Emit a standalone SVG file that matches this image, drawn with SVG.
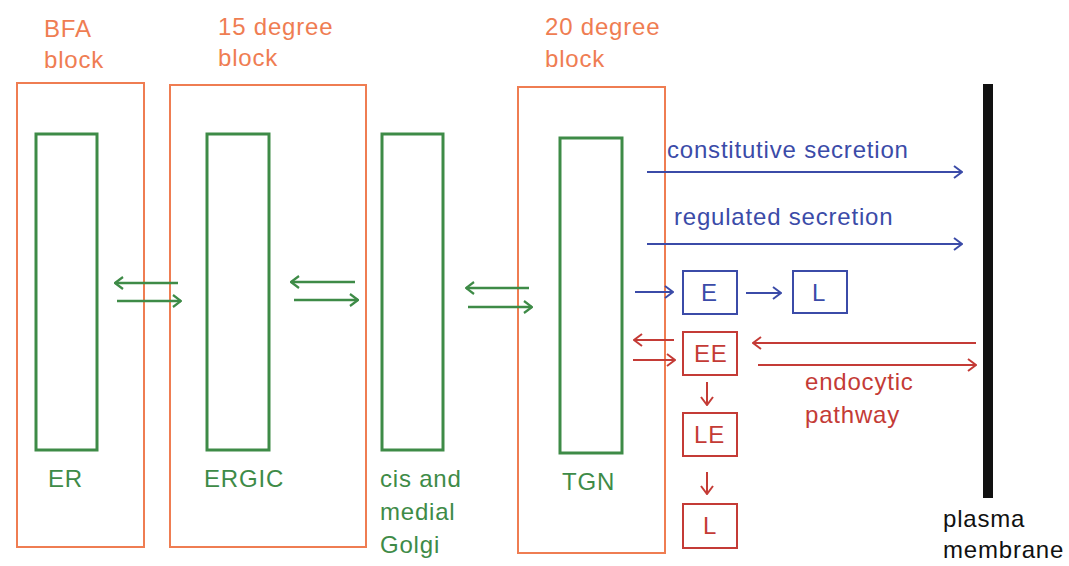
<svg xmlns="http://www.w3.org/2000/svg" width="1069" height="566" viewBox="0 0 1069 566">
<defs>
<style>
text{font-family:"Liberation Sans",Arial,sans-serif;font-size:24px;letter-spacing:0.8px}
.or{fill:none;stroke:#EF7D52;stroke-width:2}
.ot{fill:#EF7D52}
.gr{fill:none;stroke:#3E8B47;stroke-width:3}
.gt{fill:#3E8B47}
.bl{fill:none;stroke:#3B4BA8;stroke-width:2}
.bt{fill:#3B4BA8}
.rd{fill:none;stroke:#C43B36;stroke-width:2}
.rt{fill:#C43B36}
.ga{stroke:#3E8B47;stroke-width:2.5;fill:none;marker-end:url(#mg)}
.ba{stroke:#3B4BA8;stroke-width:2;fill:none;marker-end:url(#mb)}
.ra{stroke:#C43B36;stroke-width:2;fill:none;marker-end:url(#mr)}
</style>
<marker id="mg" viewBox="0 0 10 14" refX="9" refY="7" markerWidth="10" markerHeight="14" markerUnits="userSpaceOnUse" orient="auto"><path d="M1,1 L9,7 L1,13" fill="none" stroke="#3E8B47" stroke-width="2.2"/></marker>
<marker id="mb" viewBox="0 0 10 14" refX="9" refY="7" markerWidth="10" markerHeight="14" markerUnits="userSpaceOnUse" orient="auto"><path d="M1,1 L9,7 L1,13" fill="none" stroke="#3B4BA8" stroke-width="2"/></marker>
<marker id="mr" viewBox="0 0 10 14" refX="9" refY="7" markerWidth="10" markerHeight="14" markerUnits="userSpaceOnUse" orient="auto"><path d="M1,1 L9,7 L1,13" fill="none" stroke="#C43B36" stroke-width="2"/></marker>
</defs>
<rect width="1069" height="566" fill="#fff"/>

<g id="bfa-block">
<rect class="or" x="17" y="83" width="127" height="464"/>
<text class="ot" x="44" y="37">BFA</text>
<text class="ot" x="44" y="68">block</text>
</g>
<g id="block-15">
<rect class="or" x="170" y="85" width="196" height="462"/>
<text class="ot" x="218" y="35">15 degree</text>
<text class="ot" x="218" y="66">block</text>
</g>
<g id="block-20">
<rect class="or" x="518" y="87" width="147" height="466"/>
<text class="ot" x="545" y="35">20 degree</text>
<text class="ot" x="545" y="67">block</text>
</g>

<g id="er">
<rect class="gr" x="36" y="134" width="61" height="316"/>
<text class="gt" x="48" y="487">ER</text>
</g>
<g id="ergic">
<rect class="gr" x="207" y="134" width="62" height="316"/>
<text class="gt" x="204" y="487">ERGIC</text>
</g>
<g id="cis-golgi">
<rect class="gr" x="382" y="134" width="61" height="316"/>
<text class="gt" x="380" y="487">cis and</text>
<text class="gt" x="380" y="520">medial</text>
<text class="gt" x="380" y="553">Golgi</text>
</g>
<g id="tgn">
<rect class="gr" x="560" y="138" width="62" height="315"/>
<text class="gt" x="562" y="490">TGN</text>
</g>

<g id="e">
<rect class="bl" x="683" y="271" width="54" height="43"/>
<text class="bt" x="701" y="301">E</text>
</g>
<g id="l-blue">
<rect class="bl" x="793" y="271" width="54" height="42"/>
<text class="bt" x="812" y="301">L</text>
</g>
<g id="ee">
<rect class="rd" x="683" y="332" width="54" height="43"/>
<text class="rt" x="694" y="362">EE</text>
</g>
<g id="le">
<rect class="rd" x="683" y="413" width="54" height="43"/>
<text class="rt" x="694" y="443">LE</text>
</g>
<g id="l-red">
<rect class="rd" x="683" y="504" width="54" height="44"/>
<text class="rt" x="703" y="534">L</text>
</g>

<g id="plasma-membrane">
<rect x="983" y="84" width="10" height="414" fill="#111"/>
<text x="943" y="527" fill="#111">plasma</text>
<text x="943" y="558" fill="#111">membrane</text>
</g>

<g id="connectors">
<line class="ga" x1="178" y1="283" x2="115" y2="283"/>
<line class="ga" x1="117" y1="301" x2="181" y2="301"/>
<line class="ga" x1="355" y1="282" x2="291" y2="282"/>
<line class="ga" x1="294" y1="300" x2="358" y2="300"/>
<line class="ga" x1="529" y1="288" x2="466" y2="288"/>
<line class="ga" x1="468" y1="307" x2="532" y2="307"/>

<line class="ba" x1="647" y1="172" x2="962" y2="172"/>
<text class="bt" x="667" y="158">constitutive secretion</text>
<line class="ba" x1="647" y1="244" x2="962" y2="244"/>
<text class="bt" x="674" y="225">regulated secretion</text>
<line class="ba" x1="635" y1="292" x2="673" y2="292"/>
<line class="ba" x1="746" y1="293" x2="781" y2="293"/>

<line class="ra" x1="674" y1="340" x2="634" y2="340"/>
<line class="ra" x1="633" y1="360" x2="675" y2="360"/>
<line class="ra" x1="976" y1="343" x2="753" y2="343"/>
<line class="ra" x1="758" y1="365" x2="976" y2="365"/>
<text class="rt" x="805" y="390">endocytic</text>
<text class="rt" x="805" y="423">pathway</text>
<line class="ra" x1="707" y1="382" x2="707" y2="405"/>
<line class="ra" x1="707" y1="472" x2="707" y2="494"/>
</g>
</svg>
